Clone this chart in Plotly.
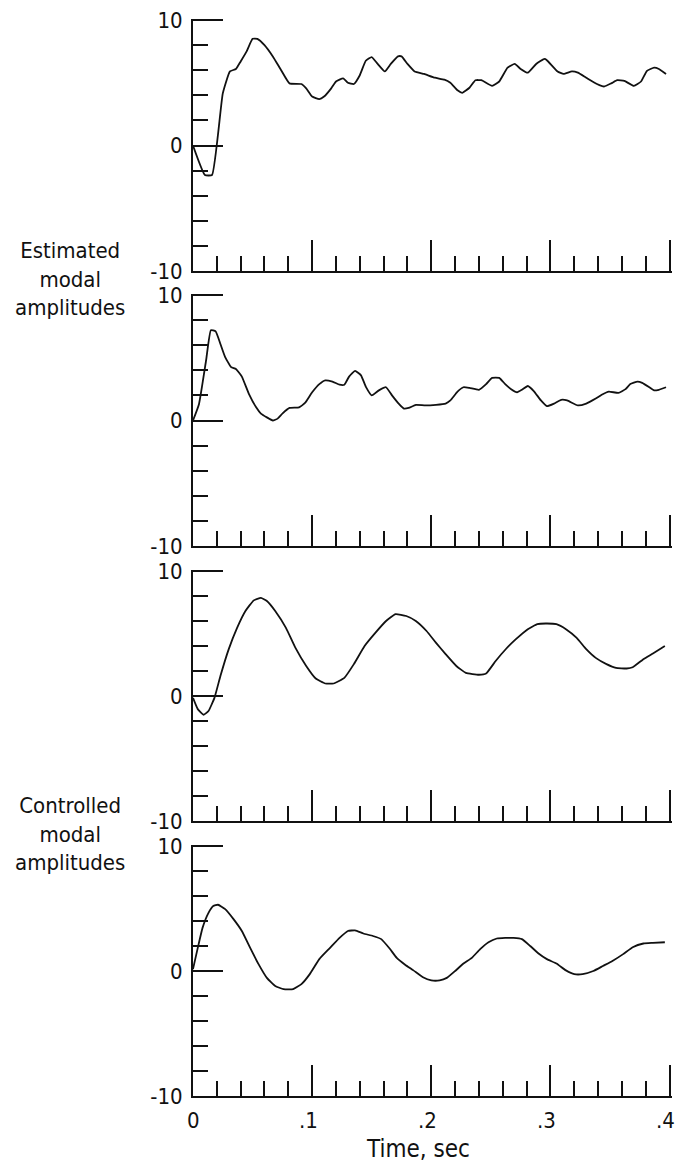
import plotly.graph_objects as go

# Time samples (sec) and modal amplitudes for each trace
t_est1 = [0.0, 0.010, 0.016, 0.025, 0.031, 0.036, 0.040, 0.045, 0.050, 0.054, 0.060,
          0.067, 0.074, 0.081, 0.091, 0.095, 0.100, 0.106, 0.110, 0.116, 0.120, 0.126, 0.130,
          0.135, 0.140, 0.145, 0.150, 0.155, 0.161, 0.166, 0.172, 0.175, 0.180, 0.186, 0.194,
          0.203, 0.211, 0.216, 0.222, 0.226, 0.232, 0.237, 0.242, 0.251, 0.257, 0.264, 0.270,
          0.275, 0.281, 0.288, 0.295, 0.297, 0.306, 0.311, 0.318, 0.323, 0.330, 0.339, 0.345,
          0.351, 0.356, 0.362, 0.370, 0.376, 0.381, 0.387, 0.391, 0.397]
v_est1 = [0.0, -2.35, -2.35, 4.15, 5.9, 6.1, 6.7, 7.5, 8.5, 8.5, 8.0,
          7.1, 6.0, 4.95, 4.9, 4.55, 3.9, 3.7, 3.9, 4.55, 5.1, 5.35, 5.0,
          4.9, 5.6, 6.75, 7.05, 6.5, 5.9, 6.5, 7.1, 7.1, 6.5, 5.9, 5.7,
          5.4, 5.25, 5.0, 4.4, 4.2, 4.6, 5.2, 5.2, 4.75, 5.1, 6.2, 6.5,
          6.1, 5.8, 6.5, 6.9, 6.8, 5.9, 5.7, 5.9, 5.8, 5.4, 4.9, 4.7,
          4.95, 5.2, 5.15, 4.75, 5.1, 5.95, 6.2, 6.1, 5.7]

t_est2 = [0.0, 0.005, 0.011, 0.015, 0.019, 0.023, 0.027, 0.032, 0.036, 0.041, 0.047, 0.053,
          0.057, 0.062, 0.067, 0.071, 0.075, 0.081, 0.089, 0.094, 0.100, 0.106, 0.111, 0.117,
          0.123, 0.127, 0.131, 0.136, 0.141, 0.145, 0.150, 0.156, 0.162, 0.167, 0.173, 0.177,
          0.181, 0.187, 0.195, 0.204, 0.212, 0.216, 0.222, 0.227, 0.232, 0.240, 0.246, 0.251,
          0.257, 0.262, 0.267, 0.272, 0.276, 0.281, 0.286, 0.292, 0.297, 0.303, 0.309, 0.314,
          0.323, 0.330, 0.338, 0.343, 0.349, 0.357, 0.363, 0.367, 0.373, 0.377, 0.383, 0.387,
          0.391, 0.397]
v_est2 = [0.0, 1.3, 4.8, 7.2, 7.1, 6.1, 5.05, 4.25, 4.1, 3.5, 2.1, 1.05,
          0.55, 0.25, 0.0, 0.15, 0.55, 1.0, 1.05, 1.4, 2.25, 2.9, 3.2, 3.1,
          2.85, 2.85, 3.5, 3.95, 3.6, 2.7, 2.0, 2.4, 2.65, 2.0, 1.3, 0.95,
          1.0, 1.25, 1.2, 1.25, 1.35, 1.6, 2.3, 2.65, 2.6, 2.45, 2.9, 3.4,
          3.4, 2.9, 2.5, 2.25, 2.45, 2.75, 2.35, 1.6, 1.15, 1.35, 1.65, 1.6,
          1.2, 1.35, 1.75, 2.05, 2.3, 2.2, 2.5, 2.9, 3.1, 3.0, 2.65, 2.4,
          2.45, 2.65]

t_ctl1 = [0.0, 0.004, 0.009, 0.013, 0.018, 0.023, 0.030, 0.037, 0.044, 0.051, 0.057, 0.062,
          0.069, 0.078, 0.086, 0.095, 0.103, 0.111, 0.118, 0.127, 0.135, 0.144, 0.153, 0.162,
          0.170, 0.179, 0.187, 0.196, 0.204, 0.212, 0.221, 0.229, 0.240, 0.246, 0.254, 0.263,
          0.271, 0.281, 0.289, 0.296, 0.305, 0.313, 0.322, 0.330, 0.338, 0.347, 0.355, 0.364,
          0.369, 0.378, 0.386, 0.396]
v_ctl1 = [-0.15, -1.05, -1.5, -1.2, -0.15, 1.6, 3.75, 5.45, 6.8, 7.65, 7.85, 7.6,
          6.8, 5.45, 3.85, 2.4, 1.4, 1.0, 1.0, 1.45, 2.55, 4.0, 5.05, 6.0,
          6.55, 6.4, 6.0, 5.2, 4.25, 3.35, 2.4, 1.85, 1.7, 1.8, 2.8, 3.8,
          4.55, 5.35, 5.75, 5.8, 5.75, 5.35, 4.65, 3.75, 3.05, 2.55, 2.25, 2.2,
          2.3, 2.95, 3.4, 4.0]

t_ctl2 = [0.0, 0.004, 0.008, 0.013, 0.017, 0.021, 0.027, 0.034, 0.041, 0.048, 0.055, 0.062,
          0.069, 0.076, 0.084, 0.091, 0.098, 0.106, 0.115, 0.123, 0.130, 0.136, 0.143, 0.151,
          0.158, 0.165, 0.171, 0.178, 0.185, 0.193, 0.200, 0.207, 0.213, 0.220, 0.227, 0.234,
          0.241, 0.248, 0.255, 0.262, 0.269, 0.276, 0.283, 0.290, 0.297, 0.305, 0.313, 0.320,
          0.327, 0.336, 0.344, 0.352, 0.361, 0.369, 0.378, 0.386, 0.396]
v_ctl2 = [0.15, 1.85, 3.45, 4.65, 5.2, 5.3, 4.95, 4.15, 3.2, 1.85, 0.55, -0.55,
          -1.2, -1.45, -1.45, -1.05, -0.25, 0.95, 1.85, 2.65, 3.2, 3.25, 3.0, 2.8,
          2.55, 1.8, 1.05, 0.5, 0.05, -0.5, -0.75, -0.75, -0.55, 0.0, 0.6, 1.05,
          1.75, 2.3, 2.6, 2.65, 2.65, 2.55, 2.0, 1.4, 0.95, 0.6, 0.05, -0.25,
          -0.25, 0.0, 0.4, 0.8, 1.35, 1.9, 2.2, 2.25, 2.3]

series = [(t_est1, v_est1), (t_est2, v_est2), (t_ctl1, v_ctl1), (t_ctl2, v_ctl2)]

y_ticks = [-10, 0, 10]
y_tick_text = ["-10", "0", "10"]
x_ticks = [0, 0.1, 0.2, 0.3, 0.4]
x_tick_text = ["0", ".1", ".2", ".3", ".4"]

group_labels = ["Estimated<br>modal<br>amplitudes", "Controlled<br>modal<br>amplitudes"]
x_title = "Time, sec"

W, H = 676, 1172
FONT = "Liberation Sans Narrow, DejaVu Sans Condensed, Arial Narrow, sans-serif"
INK = "#111111"

# Panel placement in pixels (top, bottom) and shared horizontal extent.
# Ranges are padded a hair past the end values so the end ticks stay drawn.
panel_px = [(18.5, 271), (293.5, 546), (569.5, 821), (844.5, 1096)]
x_left, x_right = 193, 672
x_range = [0, 0.402]
y_range = [-10, 10.12]

fig = go.Figure()

for i, (t, v) in enumerate(series):
    n = i + 1
    xa = "x" if n == 1 else f"x{n}"
    ya = "y" if n == 1 else f"y{n}"
    fig.add_trace(go.Scatter(x=t, y=v, mode="lines", xaxis=xa, yaxis=ya,
                             line=dict(color=INK, width=1.8, shape="spline", smoothing=0.4),
                             showlegend=False, hoverinfo="skip"))
    top, bot = panel_px[i]
    fig.layout[f"xaxis{'' if n == 1 else n}"] = dict(
        domain=[x_left / W, x_right / W], anchor=ya, range=x_range,
        showline=True, linecolor=INK, linewidth=2, showgrid=False, zeroline=False,
        tickmode="array", tickvals=x_ticks,
        ticks="inside", ticklen=31, tickwidth=1.6, tickcolor=INK,
        minor=dict(tickmode="linear", tick0=0, dtick=0.02, ticks="inside",
                   ticklen=15, tickwidth=1.6, tickcolor=INK, showgrid=False),
        showticklabels=False,
        automargin=False, fixedrange=True,
    )
    fig.layout[f"yaxis{'' if n == 1 else n}"] = dict(
        domain=[1 - bot / H, 1 - top / H], anchor=xa, range=y_range,
        showline=True, linecolor=INK, linewidth=2, showgrid=False, zeroline=False,
        tickmode="array", tickvals=y_ticks, ticktext=y_tick_text,
        ticks="inside", ticklen=30, tickwidth=2, tickcolor=INK,
        minor=dict(tickmode="linear", tick0=-10, dtick=2, ticks="inside",
                   ticklen=15, tickwidth=2, tickcolor=INK, showgrid=False),
        ticklabelstandoff=4, ticklabeloverflow="allow",
        tickfont=dict(family=FONT, size=22, color=INK),
        automargin=False, fixedrange=True,
    )

# Time labels under the bottom panel: the digit (not the leading point) sits on the tick
for val, lab in zip(x_ticks, x_tick_text):
    fig.add_annotation(text=lab, xref="x4", yref="paper", x=val, y=1 - 1120 / H,
                       xanchor="center", yanchor="middle", showarrow=False,
                       xshift=-4 if lab.startswith(".") else 0,
                       font=dict(family=FONT, size=22, color=INK))

# Group labels on the left and the time axis title
for text, cy in zip(group_labels, [279, 834]):
    fig.add_annotation(text=text, xref="paper", yref="paper", x=70 / W, y=1 - cy / H,
                       xanchor="center", yanchor="middle", showarrow=False, align="center",
                       font=dict(family=FONT, size=22, color=INK))
fig.add_annotation(text=x_title, xref="paper", yref="paper", x=418 / W, y=1 - 1149 / H,
                   xanchor="center", yanchor="middle", showarrow=False,
                   font=dict(family=FONT, size=24, color=INK))

fig.update_layout(width=W, height=H, margin=dict(l=0, r=0, t=0, b=0),
                  paper_bgcolor="white", plot_bgcolor="white", template="none")

fig.write_html("out.html")
